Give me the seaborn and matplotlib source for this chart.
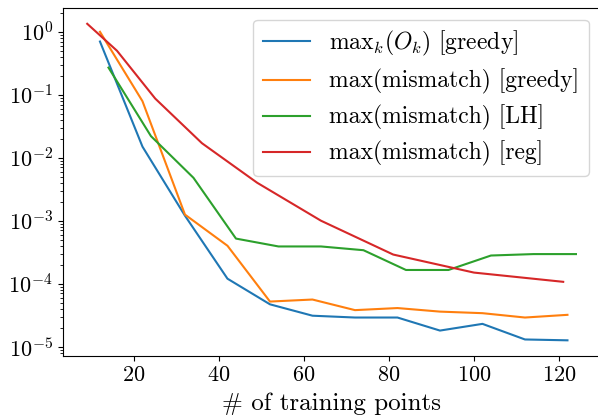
import matplotlib
matplotlib.use('Agg')
import matplotlib.pyplot as plt
import seaborn as sb

plt.rcParams['font.family'] = 'serif'
plt.rcParams['font.serif'] = ['cmr10', 'DejaVu Serif']
plt.rcParams['mathtext.fontset'] = 'cm'
plt.rcParams['axes.formatter.use_mathtext'] = True
plt.rcParams['axes.unicode_minus'] = False

# values
x_greedy = [12, 22, 32, 42, 52, 62, 72, 82, 92, 102, 112, 122]
ok_greedy = [0.70, 0.015, 1.2e-3, 1.2e-4, 4.7e-5, 3.1e-5, 2.9e-5, 2.9e-5, 1.8e-5, 2.3e-5, 1.3e-5, 1.26e-5]
mm_greedy = [1.0, 0.079, 1.25e-3, 4.0e-4, 5.2e-5, 5.6e-5, 3.8e-5, 4.1e-5, 3.6e-5, 3.4e-5, 2.9e-5, 3.2e-5]

x_lh = [14, 24, 34, 44, 54, 64, 74, 84, 94, 104, 114, 124]
mm_lh = [0.27, 0.022, 4.8e-3, 5.2e-4, 3.9e-4, 3.9e-4, 3.4e-4, 1.65e-4, 1.65e-4, 2.8e-4, 2.95e-4, 2.95e-4]

x_reg = [9, 16, 25, 36, 49, 64, 81, 100, 121]
mm_reg = [1.34, 0.50, 0.087, 0.017, 4.0e-3, 1.0e-3, 2.9e-4, 1.5e-4, 1.07e-4]

labels = [r'$\mathrm{max}_k(O_k)$ [greedy]', 'max(mismatch) [greedy]',
          'max(mismatch) [LH]', 'max(mismatch) [reg]']
colors = sb.color_palette('tab10', 4)

fig, ax = plt.subplots(figsize=(5.98, 4.19), dpi=100)
sb.lineplot(x=x_greedy, y=ok_greedy, color=colors[0], label=labels[0], ax=ax)
sb.lineplot(x=x_greedy, y=mm_greedy, color=colors[1], label=labels[1], ax=ax)
sb.lineplot(x=x_lh, y=mm_lh, color=colors[2], label=labels[2], ax=ax)
sb.lineplot(x=x_reg, y=mm_reg, color=colors[3], label=labels[3], ax=ax)

ax.set_yscale('log')
ax.set_xlabel('# of training points', fontsize=18, labelpad=5)
ax.set_ylabel('')
ax.tick_params(labelsize=16)
ax.legend(loc='upper right', fontsize=17, labelspacing=0.45)

# the reference is cut off just before the right spine
plt.subplots_adjust(left=0.105, right=1.004, top=0.981, bottom=0.150)
plt.savefig('out.png', dpi=100)
